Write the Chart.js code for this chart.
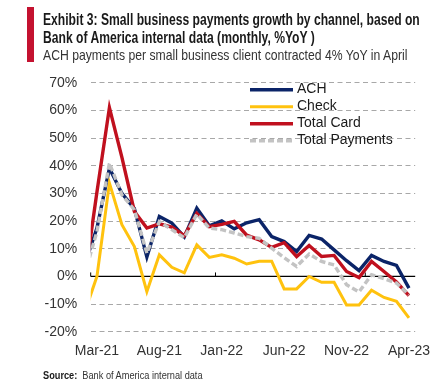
<!DOCTYPE html>
<html><head><meta charset="utf-8">
<script src="https://cdn.jsdelivr.net/npm/chart.js@4.4.0/dist/chart.umd.min.js"></script>
<style>
html,body{margin:0;padding:0;background:#fff;width:443px;height:389px;overflow:hidden}
#wrap{position:relative;width:443px;height:389px}
canvas{position:absolute;left:0;top:0}
.bar{position:absolute;left:27px;top:7px;width:7px;height:55px;background:#C41230}
.t{position:absolute;left:43px;font-family:'Liberation Sans',Arial,sans-serif;color:#1a1a1a;white-space:nowrap;transform-origin:0 0}
#title{top:10.5px;font-weight:bold;font-size:16px;line-height:18px;transform:scaleX(0.758)}
#sub{top:46.3px;font-size:15px;line-height:18px;color:#333;transform:scaleX(0.813)}
#src{top:369.5px;font-size:10px;line-height:12px;color:#333;transform:scaleX(0.92)}
#src b{color:#1a1a1a}
</style></head>
<body><div id="wrap">
<canvas id="c" width="443" height="389"></canvas>
<div class="bar"></div>
<div class="t" id="title">Exhibit 3: Small business payments growth by channel, based on<br>Bank of America internal data (monthly, %YoY )</div>
<div class="t" id="sub">ACH payments per small business client contracted 4% YoY in April</div>
<div class="t" id="src"><b>Source:</b>&nbsp; Bank of America internal data</div>
</div>
<script>
const months = ['Feb-21','Mar-21','Apr-21','May-21','Jun-21','Jul-21','Aug-21','Sep-21','Oct-21','Nov-21','Dec-21',
  'Jan-22','Feb-22','Mar-22','Apr-22','May-22','Jun-22','Jul-22','Aug-22','Sep-22','Oct-22','Nov-22','Dec-22',
  'Jan-23','Feb-23','Mar-23','Apr-23'];
const tickMonths = ['Mar-21','Aug-21','Jan-22','Jun-22','Nov-22','Apr-23'];
const yearMarks = ['Mar-21','Jan-22','Jan-23'];
const seriesNames = ['ACH','Check','Total Card','Total Payments'];
const ach = [4.1,17.5,39.1,30,24.5,7,21.7,19.3,14.3,24.7,18.3,20.1,17.2,19.4,20.5,14.4,12.6,9.0,14.8,13.5,9.6,5.7,2.1,7.6,5.4,4.0,-4.2];
const check = [-13.2,0,33.7,18.7,10.8,-5.5,7.8,3.3,1.3,11.4,6.9,7.8,6.6,4.5,5.5,5.5,-4.5,-4.5,0,-2.1,-2.1,-10.3,-10.3,-5.0,-7.6,-9.0,-15.0];
const totalCard = [-1.5,30.5,61,43,23.5,17.5,19,17.8,14.7,22.8,18,18.8,19.9,14.9,13.2,10.5,12.2,7.2,11.2,7.2,7.6,1.8,-0.4,5.4,1.8,-2.0,-6.9];
const totalPayments = [0.6,16.2,40.9,29.5,24.1,8.4,19.8,16.9,14,22.5,17.5,16.9,15.7,14.4,13.8,10.2,6.8,3.6,8.1,5.4,4.2,-3.0,-5.6,0.6,-0.8,-2.4,-6.6];

const FONT = "'Liberation Sans',Arial,sans-serif";
const idx0 = months.indexOf('Mar-21');
const toPts = arr => arr.map((v,i)=>({x:i-idx0, y:v}));

const zeroLine = {
  id:'zeroLine',
  beforeDatasetsDraw(chart){
    const {ctx, chartArea:a, scales:{x,y}} = chart;
    const y0 = y.getPixelForValue(0);
    ctx.save();
    ctx.strokeStyle = '#000'; ctx.lineWidth = 1.3;
    ctx.beginPath(); ctx.moveTo(a.left, y0); ctx.lineTo(a.right, y0); ctx.stroke();
    ctx.lineWidth = 1;
    yearMarks.forEach(m=>{
      const px = x.getPixelForValue(months.indexOf(m)-idx0-0.5);
      ctx.beginPath(); ctx.moveTo(px, y0); ctx.lineTo(px, y0-4); ctx.stroke();
    });
    ctx.restore();
  }
};
const legendPlugin = {
  id:'customLegend',
  afterDatasetsDraw(chart){
    const {ctx} = chart;
    ctx.save();
    chart.data.datasets.forEach((ds,i)=>{
      const yy = 89.8 + i*17;
      ctx.strokeStyle = ds.borderColor; ctx.lineWidth = ds.borderWidth;
      ctx.setLineDash(ds.borderDash || []);
      ctx.lineCap = 'butt';
      ctx.beginPath(); ctx.moveTo(250, yy); ctx.lineTo(293, yy); ctx.stroke();
      ctx.setLineDash([]);
      ctx.fillStyle = '#1a1a1a';
      ctx.font = '14px ' + FONT;
      ctx.textBaseline = 'middle'; ctx.textAlign = 'left';
      ctx.fillText(ds.label, 297, yy-0.5);
    });
    ctx.restore();
  }
};

new Chart(document.getElementById('c'), {
  type:'line',
  data:{
    datasets:[
      {label:seriesNames[0], data:toPts(ach), borderColor:'#0B2468', borderWidth:3.4, order:3},
      {label:seriesNames[1], data:toPts(check), borderColor:'#FFC20E', borderWidth:3, order:2},
      {label:seriesNames[2], data:toPts(totalCard), borderColor:'#C0101E', borderWidth:3.4, order:1},
      {label:seriesNames[3], data:toPts(totalPayments), borderColor:'#C3C3C3', borderWidth:3.4, borderDash:[6,3], order:0}
    ].map(d=>Object.assign({pointRadius:0, tension:0, fill:false, clip:0, borderJoinStyle:'miter'}, d))
  },
  options:{
    responsive:false, animation:false, devicePixelRatio:1,
    layout:{padding:{top:82.7, right:27.8, bottom:0, left:0}},
    plugins:{legend:{display:false}, tooltip:{enabled:false}},
    scales:{
      x:{
        type:'linear', min:-0.5, max:months.length-idx0-0.5,
        grid:{display:false, drawTicks:false}, border:{display:false},
        afterBuildTicks(s){ s.ticks = tickMonths.map(m=>({value:months.indexOf(m)-idx0})); },
        afterFit(s){ s.height = 57.2; s.paddingLeft = 0; s.paddingRight = 0; },
        ticks:{autoSkip:false, maxRotation:0, padding:11, color:'#333', font:{family:FONT, size:14},
          callback:(v)=>months[v+idx0]}
      },
      y:{
        min:-20, max:70,
        grid:{drawTicks:false, lineWidth:1, color:(c)=> c.tick && c.tick.value===0 ? 'rgba(0,0,0,0)' : '#A8A8A8'},
        border:{display:false, dash:[5,3.5]},
        afterFit(s){ s.width = 90.7; s.paddingTop = 0; s.paddingBottom = 0; },
        ticks:{stepSize:10, padding:13.5, color:'#333', font:{family:FONT, size:14}, callback:(v)=>v+'%'}
      }
    }
  },
  plugins:[zeroLine, legendPlugin]
});
</script>
</body></html>
